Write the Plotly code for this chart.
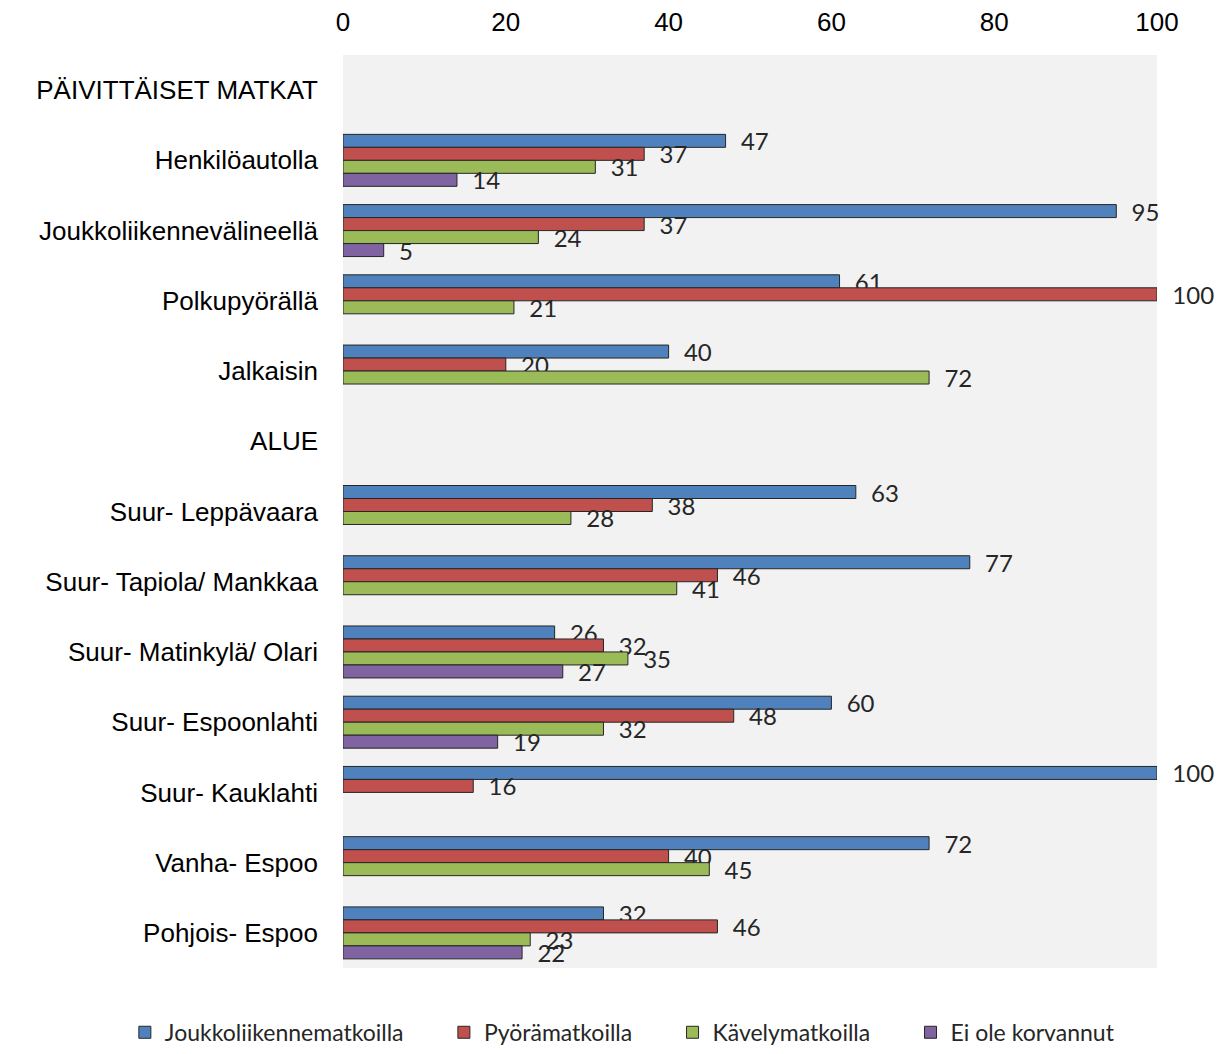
import plotly.graph_objects as go

categories = [
    "PÄIVITTÄISET MATKAT",
    "Henkilöautolla",
    "Joukkoliikennevälineellä",
    "Polkupyörällä",
    "Jalkaisin",
    "ALUE",
    "Suur- Leppävaara",
    "Suur- Tapiola/ Mankkaa",
    "Suur- Matinkylä/ Olari",
    "Suur- Espoonlahti",
    "Suur- Kauklahti",
    "Vanha- Espoo",
    "Pohjois- Espoo",
]

joukkoliikenne = [None, 47, 95, 61, 40, None, 63, 77, 26, 60, 100, 72, 32]
pyora = [None, 37, 37, 100, 20, None, 38, 46, 32, 48, 16, 40, 46]
kavely = [None, 31, 24, 21, 72, None, 28, 41, 35, 32, None, 45, 23]
ei_korvannut = [None, 14, 5, None, None, None, None, None, 27, 19, None, None, 22]

series_names = ["Joukkoliikennematkoilla", "Pyörämatkoilla", "Kävelymatkoilla", "Ei ole korvannut"]
series_values = [joukkoliikenne, pyora, kavely, ei_korvannut]
series_colors = ["#4F81BD", "#C0504D", "#9BBB59", "#8064A2"]

x_ticks = [0, 20, 40, 60, 80, 100]

fig = go.Figure()
for name, vals, col in zip(series_names, series_values, series_colors):
    fig.add_trace(go.Bar(
        name=name + "\u00a0" * 6,
        y=categories,
        x=vals,
        orientation="h",
        marker=dict(color=col, line=dict(color="#262626", width=1)),
        text=["" if v is None else "\u00a0\u00a0" + str(v) for v in vals],
        textposition="outside",
        textfont=dict(family="Lato", size=24, color="#262626"),
        constraintext="none",
        cliponaxis=False,
    ))

fig.update_layout(
    width=1215,
    height=1038,
    barmode="group",
    bargap=0.26,
    bargroupgap=0,
    plot_bgcolor="#F2F2F2",
    paper_bgcolor="white",
    margin=dict(l=335, r=66, t=47, b=78, autoexpand=False),
    xaxis=dict(
        side="top",
        range=[0, 100],
        tickvals=x_ticks,
        showgrid=False,
        zeroline=False,
        showline=False,
        ticks="",
        tickfont=dict(family="Liberation Sans", size=26, color="#000000"),
        ticklabelstandoff=18,
    ),
    yaxis=dict(
        categoryorder="array",
        categoryarray=categories,
        range=[12.5, -0.5],
        showgrid=False,
        zeroline=False,
        showline=False,
        ticks="",
        tickfont=dict(family="Liberation Sans", size=26, color="#000000"),
        ticklabelstandoff=24,
    ),
    legend=dict(
        orientation="h",
        x=-0.268,
        xanchor="left",
        y=-0.094,
        yanchor="bottom",
        font=dict(family="Lato", size=23, color="#262626"),
        traceorder="normal",
    ),
    showlegend=True,
)

fig.write_html("out.html")
